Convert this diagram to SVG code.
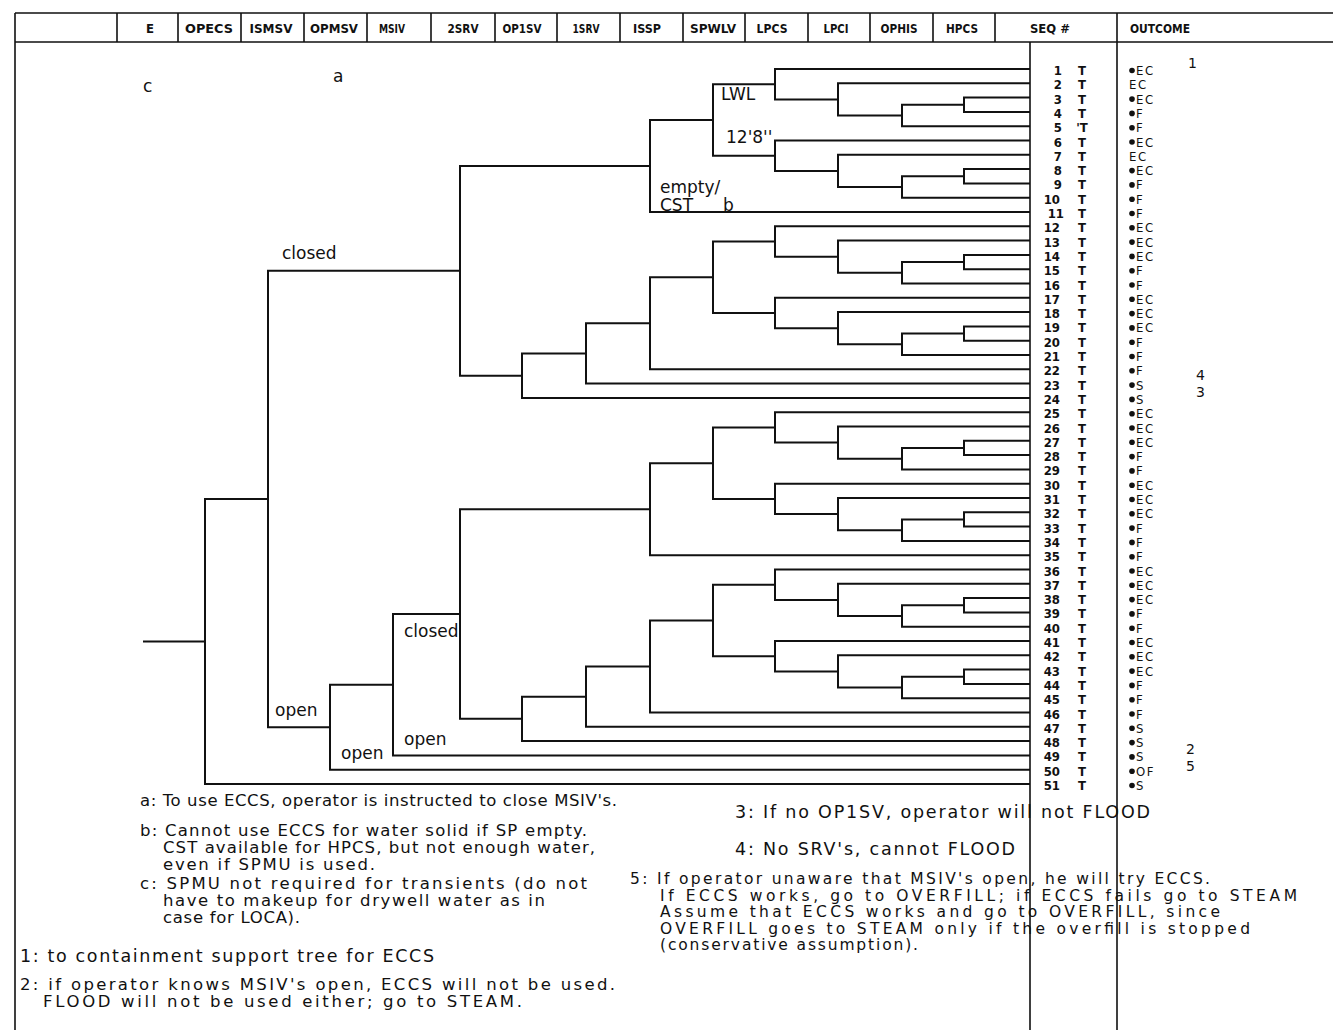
<svg xmlns="http://www.w3.org/2000/svg" width="1333" height="1030" viewBox="0 0 1333 1030">
<style>
.ln{fill:none;stroke:#111;stroke-width:2}
.fr{fill:none;stroke:#111;stroke-width:1.6}
.hd{font-family:"DejaVu Sans Condensed","DejaVu Sans",sans-serif;font-weight:bold;font-size:13px;fill:#111;text-anchor:middle}
.nm{font-family:"DejaVu Sans Condensed","DejaVu Sans",sans-serif;font-weight:bold;font-size:13px;fill:#111;text-anchor:end}
.tt{font-family:"DejaVu Sans Condensed","DejaVu Sans",sans-serif;font-weight:bold;font-size:13px;fill:#111;text-anchor:middle}
.oc{font-family:"DejaVu Sans Condensed","DejaVu Sans",sans-serif;font-size:13px;fill:#111;letter-spacing:1.5px}
.lb{font-family:"DejaVu Sans","Liberation Sans",sans-serif;font-size:17px;fill:#111}
.nt{font-family:"DejaVu Sans","Liberation Sans",sans-serif;font-size:16.5px;fill:#111}
.nb{font-family:"DejaVu Sans","Liberation Sans",sans-serif;font-size:17.5px;fill:#111}
.n5{font-family:"DejaVu Sans","Liberation Sans",sans-serif;font-size:15.5px;fill:#111}
.on{font-family:"DejaVu Sans","Liberation Sans",sans-serif;font-size:14px;fill:#111}
</style>
<defs>
<g id="sub5">
<path d="M1030,0H775V30.39H838"/>
<path d="M1030,14.3H838V46.48H902"/>
<path d="M964,35.75H902V57.2H1030"/>
<path d="M1030,28.6H964V42.9H1030"/>
</g>
<g id="grp11">
<use href="#sub5"/>
<use href="#sub5" transform="translate(0,71.5)"/>
<path d="M775,15.19H713V86.69H775"/>
<path d="M713,50.94H650V143H1030"/>
</g>
<circle id="dot" r="2.8" fill="#111"/>
</defs>
<rect width="1333" height="1030" fill="#fff"/>

<g id="frame" class="fr">
<path d="M15,13H1333M15,42H1333M15,13V1030M1030,42V1030M1117,13V1030"/>
<path d="M117,13V42M178,13V42M241,13V42M304,13V42M367,13V42M431,13V42M495,13V42M557,13V42M620,13V42M683,13V42M745,13V42M808,13V42M870,13V42M933,13V42M995,13V42"/>
</g>

<g id="header">
<g id="h-E"><text class="hd" x="150" y="33">E</text></g>
<g id="h-OPECS"><text class="hd" x="209" y="33" textLength="48" lengthAdjust="spacingAndGlyphs">OPECS</text></g>
<g id="h-ISMSV"><text class="hd" x="271" y="33" textLength="43" lengthAdjust="spacingAndGlyphs">ISMSV</text></g>
<g id="h-OPMSV"><text class="hd" x="334" y="33" textLength="48" lengthAdjust="spacingAndGlyphs">OPMSV</text></g>
<g id="h-MSIV"><text class="hd" x="392" y="33" textLength="26" lengthAdjust="spacingAndGlyphs">MSIV</text></g>
<g id="h-2SRV"><text class="hd" x="463" y="33" textLength="31" lengthAdjust="spacingAndGlyphs">2SRV</text></g>
<g id="h-OP1SV"><text class="hd" x="522" y="33" textLength="39" lengthAdjust="spacingAndGlyphs">OP1SV</text></g>
<g id="h-1SRV"><text class="hd" x="586" y="33" textLength="27" lengthAdjust="spacingAndGlyphs">1SRV</text></g>
<g id="h-ISSP"><text class="hd" x="647" y="33" textLength="28" lengthAdjust="spacingAndGlyphs">ISSP</text></g>
<g id="h-SPWLV"><text class="hd" x="713" y="33" textLength="46" lengthAdjust="spacingAndGlyphs">SPWLV</text></g>
<g id="h-LPCS"><text class="hd" x="772" y="33" textLength="31" lengthAdjust="spacingAndGlyphs">LPCS</text></g>
<g id="h-LPCI"><text class="hd" x="836" y="33" textLength="25" lengthAdjust="spacingAndGlyphs">LPCI</text></g>
<g id="h-OPHIS"><text class="hd" x="899" y="33" textLength="37" lengthAdjust="spacingAndGlyphs">OPHIS</text></g>
<g id="h-HPCS"><text class="hd" x="962" y="33" textLength="32" lengthAdjust="spacingAndGlyphs">HPCS</text></g>
<g id="h-SEQ"><text class="hd" x="1050" y="33" textLength="40" lengthAdjust="spacingAndGlyphs">SEQ #</text></g>
<g id="h-OUTCOME"><text class="hd" x="1160" y="33" textLength="60" lengthAdjust="spacingAndGlyphs">OUTCOME</text></g>
</g>

<g id="connectors" class="ln">
<use href="#grp11" transform="translate(0,69)"/>
<use href="#grp11" transform="translate(0,226.3)"/>
<use href="#grp11" transform="translate(0,412.2)"/>
<use href="#grp11" transform="translate(0,569.5)"/>
<path d="M650,323.27H586V383.6H1030"/>
<path d="M586,353.44H522V397.9H1030"/>
<path d="M650,165.97H460V375.67H522"/>
<path d="M650,666.47H586V726.8H1030"/>
<path d="M586,696.64H522V741.1H1030"/>
<path d="M650,509.17H460V718.87H522"/>
<path d="M460,614.02H393V755.4H1030"/>
<path d="M393,684.71H330V769.7H1030"/>
<path d="M460,270.82H268V727.2H330"/>
<path d="M268,499.01H205V784H1030"/>
<path d="M143,641.5H205"/>
</g>

<g id="branch-labels">
<g id="lbl-LWL"><text class="lb" x="721" y="100">LWL</text></g>
<g id="lbl-128"><text class="lb" x="726" y="143">12'8''</text></g>
<g id="lbl-empty"><text class="lb" x="660" y="193">empty/</text><text class="lb" x="660" y="211">CST</text><text class="lb" x="723" y="211">b</text></g>
<g id="lbl-closed1"><text class="lb" x="282" y="259">closed</text></g>
<g id="lbl-open1"><text class="lb" x="275" y="716">open</text></g>
<g id="lbl-closed2"><text class="lb" x="404" y="637">closed</text></g>
<g id="lbl-open2"><text class="lb" x="404" y="745">open</text></g>
<g id="lbl-open3"><text class="lb" x="341" y="759">open</text></g>
<g id="lbl-c"><text class="lb" x="143" y="92">c</text></g>
<g id="lbl-a"><text class="lb" x="333" y="82">a</text></g>
</g>

<g id="sequences">
<g id="row-1"><text class="nm" x="1062" y="75">1</text><text class="tt" x="1082" y="75">T</text><use href="#dot" x="1132" y="70.5"/><text class="oc" x="1136" y="75">EC</text></g>
<g id="row-2"><text class="nm" x="1062" y="89.3">2</text><text class="tt" x="1082" y="89.3">T</text><text class="oc" x="1129" y="89.3">EC</text></g>
<g id="row-3"><text class="nm" x="1062" y="103.6">3</text><text class="tt" x="1082" y="103.6">T</text><use href="#dot" x="1132" y="99.1"/><text class="oc" x="1136" y="103.6">EC</text></g>
<g id="row-4"><text class="nm" x="1062" y="117.9">4</text><text class="tt" x="1082" y="117.9">T</text><use href="#dot" x="1132" y="113.4"/><text class="oc" x="1136" y="117.9">F</text></g>
<g id="row-5"><text class="nm" x="1062" y="132.2">5</text><text class="tt" x="1082" y="132.2">'T</text><use href="#dot" x="1132" y="127.7"/><text class="oc" x="1136" y="132.2">F</text></g>
<g id="row-6"><text class="nm" x="1062" y="146.5">6</text><text class="tt" x="1082" y="146.5">T</text><use href="#dot" x="1132" y="142"/><text class="oc" x="1136" y="146.5">EC</text></g>
<g id="row-7"><text class="nm" x="1062" y="160.8">7</text><text class="tt" x="1082" y="160.8">T</text><text class="oc" x="1129" y="160.8">EC</text></g>
<g id="row-8"><text class="nm" x="1062" y="175.1">8</text><text class="tt" x="1082" y="175.1">T</text><use href="#dot" x="1132" y="170.6"/><text class="oc" x="1136" y="175.1">EC</text></g>
<g id="row-9"><text class="nm" x="1062" y="189.4">9</text><text class="tt" x="1082" y="189.4">T</text><use href="#dot" x="1132" y="184.9"/><text class="oc" x="1136" y="189.4">F</text></g>
<g id="row-10"><text class="nm" x="1060" y="203.7">10</text><text class="tt" x="1082" y="203.7">T</text><use href="#dot" x="1132" y="199.2"/><text class="oc" x="1136" y="203.7">F</text></g>
<g id="row-11"><text class="nm" x="1064" y="218">11</text><text class="tt" x="1082" y="218">T</text><use href="#dot" x="1132" y="213.5"/><text class="oc" x="1136" y="218">F</text></g>
<g id="row-12"><text class="nm" x="1060" y="232.3">12</text><text class="tt" x="1082" y="232.3">T</text><use href="#dot" x="1132" y="227.8"/><text class="oc" x="1136" y="232.3">EC</text></g>
<g id="row-13"><text class="nm" x="1060" y="246.6">13</text><text class="tt" x="1082" y="246.6">T</text><use href="#dot" x="1132" y="242.1"/><text class="oc" x="1136" y="246.6">EC</text></g>
<g id="row-14"><text class="nm" x="1060" y="260.9">14</text><text class="tt" x="1082" y="260.9">T</text><use href="#dot" x="1132" y="256.4"/><text class="oc" x="1136" y="260.9">EC</text></g>
<g id="row-15"><text class="nm" x="1060" y="275.2">15</text><text class="tt" x="1082" y="275.2">T</text><use href="#dot" x="1132" y="270.7"/><text class="oc" x="1136" y="275.2">F</text></g>
<g id="row-16"><text class="nm" x="1060" y="289.5">16</text><text class="tt" x="1082" y="289.5">T</text><use href="#dot" x="1132" y="285"/><text class="oc" x="1136" y="289.5">F</text></g>
<g id="row-17"><text class="nm" x="1060" y="303.8">17</text><text class="tt" x="1082" y="303.8">T</text><use href="#dot" x="1132" y="299.3"/><text class="oc" x="1136" y="303.8">EC</text></g>
<g id="row-18"><text class="nm" x="1060" y="318.1">18</text><text class="tt" x="1082" y="318.1">T</text><use href="#dot" x="1132" y="313.6"/><text class="oc" x="1136" y="318.1">EC</text></g>
<g id="row-19"><text class="nm" x="1060" y="332.4">19</text><text class="tt" x="1082" y="332.4">T</text><use href="#dot" x="1132" y="327.9"/><text class="oc" x="1136" y="332.4">EC</text></g>
<g id="row-20"><text class="nm" x="1060" y="346.7">20</text><text class="tt" x="1082" y="346.7">T</text><use href="#dot" x="1132" y="342.2"/><text class="oc" x="1136" y="346.7">F</text></g>
<g id="row-21"><text class="nm" x="1060" y="361">21</text><text class="tt" x="1082" y="361">T</text><use href="#dot" x="1132" y="356.5"/><text class="oc" x="1136" y="361">F</text></g>
<g id="row-22"><text class="nm" x="1060" y="375.3">22</text><text class="tt" x="1082" y="375.3">T</text><use href="#dot" x="1132" y="370.8"/><text class="oc" x="1136" y="375.3">F</text></g>
<g id="row-23"><text class="nm" x="1060" y="389.6">23</text><text class="tt" x="1082" y="389.6">T</text><use href="#dot" x="1132" y="385.1"/><text class="oc" x="1136" y="389.6">S</text></g>
<g id="row-24"><text class="nm" x="1060" y="403.9">24</text><text class="tt" x="1082" y="403.9">T</text><use href="#dot" x="1132" y="399.4"/><text class="oc" x="1136" y="403.9">S</text></g>
<g id="row-25"><text class="nm" x="1060" y="418.2">25</text><text class="tt" x="1082" y="418.2">T</text><use href="#dot" x="1132" y="413.7"/><text class="oc" x="1136" y="418.2">EC</text></g>
<g id="row-26"><text class="nm" x="1060" y="432.5">26</text><text class="tt" x="1082" y="432.5">T</text><use href="#dot" x="1132" y="428"/><text class="oc" x="1136" y="432.5">EC</text></g>
<g id="row-27"><text class="nm" x="1060" y="446.8">27</text><text class="tt" x="1082" y="446.8">T</text><use href="#dot" x="1132" y="442.3"/><text class="oc" x="1136" y="446.8">EC</text></g>
<g id="row-28"><text class="nm" x="1060" y="461.1">28</text><text class="tt" x="1082" y="461.1">T</text><use href="#dot" x="1132" y="456.6"/><text class="oc" x="1136" y="461.1">F</text></g>
<g id="row-29"><text class="nm" x="1060" y="475.4">29</text><text class="tt" x="1082" y="475.4">T</text><use href="#dot" x="1132" y="470.9"/><text class="oc" x="1136" y="475.4">F</text></g>
<g id="row-30"><text class="nm" x="1060" y="489.7">30</text><text class="tt" x="1082" y="489.7">T</text><use href="#dot" x="1132" y="485.2"/><text class="oc" x="1136" y="489.7">EC</text></g>
<g id="row-31"><text class="nm" x="1060" y="504">31</text><text class="tt" x="1082" y="504">T</text><use href="#dot" x="1132" y="499.5"/><text class="oc" x="1136" y="504">EC</text></g>
<g id="row-32"><text class="nm" x="1060" y="518.3">32</text><text class="tt" x="1082" y="518.3">T</text><use href="#dot" x="1132" y="513.8"/><text class="oc" x="1136" y="518.3">EC</text></g>
<g id="row-33"><text class="nm" x="1060" y="532.6">33</text><text class="tt" x="1082" y="532.6">T</text><use href="#dot" x="1132" y="528.1"/><text class="oc" x="1136" y="532.6">F</text></g>
<g id="row-34"><text class="nm" x="1060" y="546.9">34</text><text class="tt" x="1082" y="546.9">T</text><use href="#dot" x="1132" y="542.4"/><text class="oc" x="1136" y="546.9">F</text></g>
<g id="row-35"><text class="nm" x="1060" y="561.2">35</text><text class="tt" x="1082" y="561.2">T</text><use href="#dot" x="1132" y="556.7"/><text class="oc" x="1136" y="561.2">F</text></g>
<g id="row-36"><text class="nm" x="1060" y="575.5">36</text><text class="tt" x="1082" y="575.5">T</text><use href="#dot" x="1132" y="571"/><text class="oc" x="1136" y="575.5">EC</text></g>
<g id="row-37"><text class="nm" x="1060" y="589.8">37</text><text class="tt" x="1082" y="589.8">T</text><use href="#dot" x="1132" y="585.3"/><text class="oc" x="1136" y="589.8">EC</text></g>
<g id="row-38"><text class="nm" x="1060" y="604.1">38</text><text class="tt" x="1082" y="604.1">T</text><use href="#dot" x="1132" y="599.6"/><text class="oc" x="1136" y="604.1">EC</text></g>
<g id="row-39"><text class="nm" x="1060" y="618.4">39</text><text class="tt" x="1082" y="618.4">T</text><use href="#dot" x="1132" y="613.9"/><text class="oc" x="1136" y="618.4">F</text></g>
<g id="row-40"><text class="nm" x="1060" y="632.7">40</text><text class="tt" x="1082" y="632.7">T</text><use href="#dot" x="1132" y="628.2"/><text class="oc" x="1136" y="632.7">F</text></g>
<g id="row-41"><text class="nm" x="1060" y="647">41</text><text class="tt" x="1082" y="647">T</text><use href="#dot" x="1132" y="642.5"/><text class="oc" x="1136" y="647">EC</text></g>
<g id="row-42"><text class="nm" x="1060" y="661.3">42</text><text class="tt" x="1082" y="661.3">T</text><use href="#dot" x="1132" y="656.8"/><text class="oc" x="1136" y="661.3">EC</text></g>
<g id="row-43"><text class="nm" x="1060" y="675.6">43</text><text class="tt" x="1082" y="675.6">T</text><use href="#dot" x="1132" y="671.1"/><text class="oc" x="1136" y="675.6">EC</text></g>
<g id="row-44"><text class="nm" x="1060" y="689.9">44</text><text class="tt" x="1082" y="689.9">T</text><use href="#dot" x="1132" y="685.4"/><text class="oc" x="1136" y="689.9">F</text></g>
<g id="row-45"><text class="nm" x="1060" y="704.2">45</text><text class="tt" x="1082" y="704.2">T</text><use href="#dot" x="1132" y="699.7"/><text class="oc" x="1136" y="704.2">F</text></g>
<g id="row-46"><text class="nm" x="1060" y="718.5">46</text><text class="tt" x="1082" y="718.5">T</text><use href="#dot" x="1132" y="714"/><text class="oc" x="1136" y="718.5">F</text></g>
<g id="row-47"><text class="nm" x="1060" y="732.8">47</text><text class="tt" x="1082" y="732.8">T</text><use href="#dot" x="1132" y="728.3"/><text class="oc" x="1136" y="732.8">S</text></g>
<g id="row-48"><text class="nm" x="1060" y="747.1">48</text><text class="tt" x="1082" y="747.1">T</text><use href="#dot" x="1132" y="742.6"/><text class="oc" x="1136" y="747.1">S</text></g>
<g id="row-49"><text class="nm" x="1060" y="761.4">49</text><text class="tt" x="1082" y="761.4">T</text><use href="#dot" x="1132" y="756.9"/><text class="oc" x="1136" y="761.4">S</text></g>
<g id="row-50"><text class="nm" x="1060" y="775.7">50</text><text class="tt" x="1082" y="775.7">T</text><use href="#dot" x="1132" y="771.2"/><text class="oc" x="1136" y="775.7">OF</text></g>
<g id="row-51"><text class="nm" x="1060" y="790">51</text><text class="tt" x="1082" y="790">T</text><use href="#dot" x="1132" y="785.5"/><text class="oc" x="1136" y="790">S</text></g>
</g>

<g id="outcome-notes">
<text class="on" x="1188" y="68">1</text>
<text class="on" x="1196" y="380">4</text>
<text class="on" x="1196" y="397">3</text>
<text class="on" x="1186" y="754">2</text>
<text class="on" x="1186" y="771">5</text>
</g>

<g id="notes">
<g id="note-a"><text class="nt" x="140" y="806" textLength="477">a: To use ECCS, operator is instructed to close MSIV's.</text></g>
<g id="note-b"><text class="nt" x="140" y="836" textLength="447">b: Cannot use ECCS for water solid if SP empty.</text>
<text class="nt" x="163" y="853" textLength="432">CST available for HPCS, but not enough water,</text>
<text class="nt" x="163" y="870" textLength="212">even if SPMU is used.</text></g>
<g id="note-c"><text class="nt" x="140" y="889" textLength="447">c: SPMU not required for transients (do not</text>
<text class="nt" x="163" y="906" textLength="382">have to makeup for drywell water as in</text>
<text class="nt" x="163" y="923" textLength="137">case for LOCA).</text></g>
<g id="note-1"><text class="nb" x="20" y="962" textLength="414">1: to containment support tree for ECCS</text></g>
<g id="note-2"><text class="nt" x="20" y="990" textLength="595">2: if operator knows MSIV's open, ECCS will not be used.</text>
<text class="nt" x="43" y="1007" textLength="479">FLOOD will not be used either; go to STEAM.</text></g>
<g id="note-3"><text class="nb" x="735" y="818" textLength="415">3: If no OP1SV, operator will not FLOOD</text></g>
<g id="note-4"><text class="nb" x="735" y="855" textLength="280">4: No SRV's, cannot FLOOD</text></g>
<g id="note-5"><text class="n5" x="630" y="884" textLength="580">5: If operator unaware that MSIV's open, he will try ECCS.</text>
<text class="n5" x="660" y="900.5" textLength="637">If ECCS works, go to OVERFILL; if ECCS fails go to STEAM</text>
<text class="n5" x="660" y="917" textLength="560">Assume that ECCS works and go to OVERFILL, since</text>
<text class="n5" x="660" y="933.5" textLength="590">OVERFILL goes to STEAM only if the overfill is stopped</text>
<text class="n5" x="660" y="950" textLength="258">(conservative assumption).</text></g>
</g>
</svg>
